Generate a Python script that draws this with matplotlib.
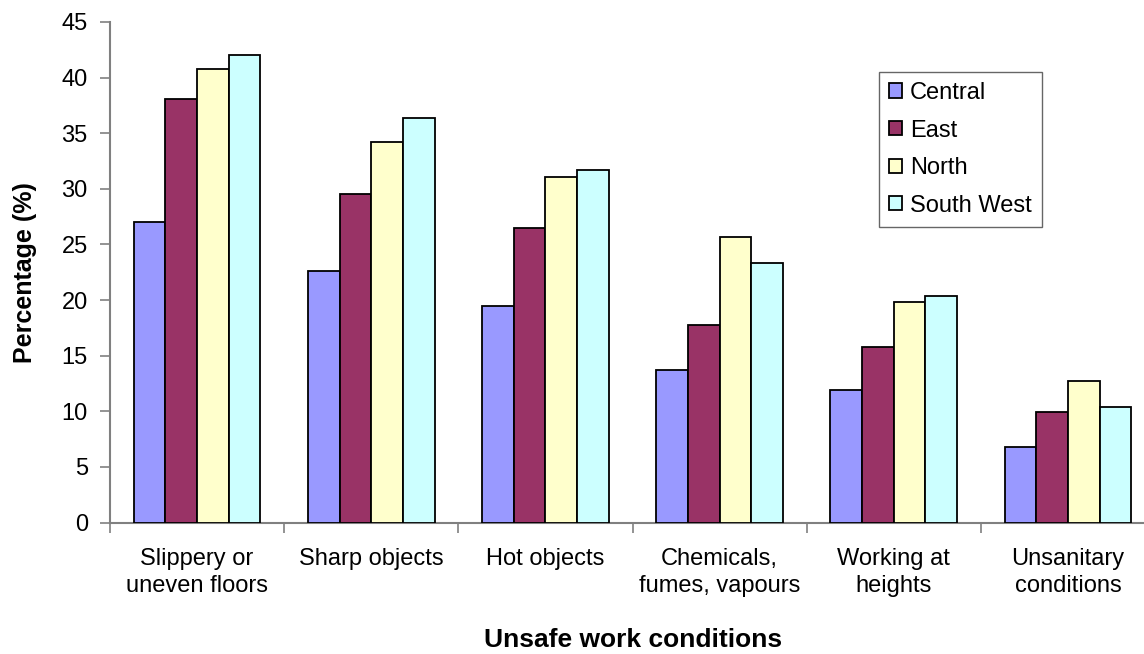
import matplotlib
matplotlib.use("Agg")
import matplotlib.pyplot as plt
import numpy as np

plt.rcParams['font.family'] = ['Liberation Sans', 'DejaVu Sans']

categories = ["Slippery or\nuneven floors", "Sharp objects", "Hot objects",
              "Chemicals,\nfumes, vapours", "Working at\nheights", "Unsanitary\nconditions"]
regions = ["Central", "East", "North", "South West"]
central = [27.0, 22.6, 19.5, 13.7, 11.9, 6.8]
east = [38.1, 29.5, 26.5, 17.8, 15.8, 9.9]
north = [40.8, 34.2, 31.1, 25.7, 19.8, 12.7]
south_west = [42.0, 36.4, 31.7, 23.3, 20.4, 10.4]
yticks = list(range(0, 46, 5))

series = [central, east, north, south_west]
colors = ["#9999FF", "#993366", "#FFFFCC", "#CCFFFF"]

fig = plt.figure(figsize=(11.44, 6.54), dpi=100)
ax = fig.add_axes([110 / 1144, 131.5 / 654, 1045 / 1144, 500.5 / 654])

n = len(categories)
x = np.arange(n) + 0.5
w = 0.182
for j, (vals, col, name) in enumerate(zip(series, colors, regions)):
    ax.bar(x + (j - 1.5) * w, vals, width=w, color=col, edgecolor="black",
           linewidth=1.3, label=name, zorder=3)

ax.set_xlim(0, n)
ax.set_ylim(0, 45)
ax.set_yticks(yticks)
ax.set_yticklabels([str(v) for v in yticks])

# group boundaries get tick marks, group centres get the labels
ax.set_xticks(np.arange(n + 1))
ax.set_xticklabels([])
ax.set_xticks(x, minor=True)
ax.set_xticklabels(categories, minor=True, fontsize=17, linespacing=1.35)
ax.tick_params(axis="x", which="minor", length=0, pad=18)
ax.tick_params(axis="x", which="major", length=7, width=1.2, color="#808080", direction="out")
ax.tick_params(axis="y", length=7, width=1.2, color="#808080", direction="out",
               labelsize=17, pad=9)

for side in ("top", "right"):
    ax.spines[side].set_visible(False)
for side in ("left", "bottom"):
    ax.spines[side].set_color("#808080")
    ax.spines[side].set_linewidth(1.5)

fig.text(25 / 1144, 1 - 273 / 654, "Percentage (%)", rotation=90, fontsize=18,
         fontweight="bold", ha="center", va="center")
fig.text(633 / 1144, 1 - 640 / 654, "Unsafe work conditions", fontsize=19,
         fontweight="bold", ha="center", va="center")

leg = ax.legend(loc="upper left", bbox_to_anchor=(879 / 1144, 1 - 72 / 654),
                bbox_transform=fig.transFigure, fontsize=17, frameon=True,
                fancybox=False, edgecolor="#404040", handlelength=0.55,
                handleheight=0.55, handletextpad=0.35, labelspacing=0.66,
                borderpad=0.42, borderaxespad=0)
leg.get_frame().set_linewidth(1.0)

fig.savefig("out.png", dpi=100)
